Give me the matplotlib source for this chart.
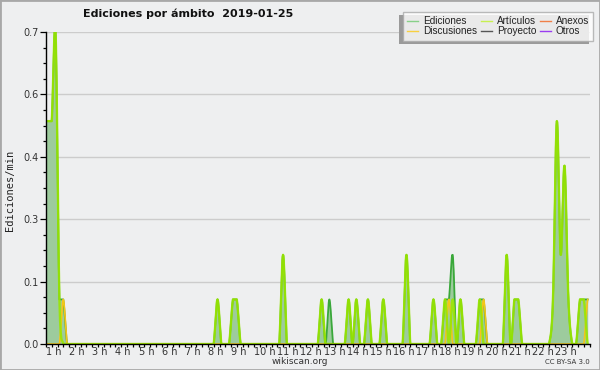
import numpy as np
import matplotlib
matplotlib.use("Agg")
import matplotlib.pyplot as plt
from matplotlib.lines import Line2D
from matplotlib.patches import Rectangle

# ---- data (10-minute bins, edits per minute) ----
n_bins = 142
total_bins = [0, 1, 2, 3, 4, 5, 45, 49, 50, 62, 72, 74, 79, 81, 84, 88, 94, 101,
              104, 105, 106, 108, 113, 114, 120, 122, 123, 132, 133, 134, 135, 136,
              139, 140, 141]
total_vals = [0.5, 0.5, 0.5, 0.7, 0.1, 0.1, 0.1, 0.1, 0.1, 0.2, 0.1, 0.1, 0.1, 0.1,
              0.1, 0.1, 0.2, 0.1, 0.1, 0.1, 0.2, 0.1, 0.1, 0.1, 0.2, 0.1, 0.1, 0.1,
              0.5, 0.2, 0.4, 0.1, 0.1, 0.1, 0.1]
art_bins = [0, 1, 2, 3, 4, 45, 49, 50, 62, 72, 79, 81, 84, 88, 94, 101, 104, 106,
            108, 113, 120, 122, 123, 132, 133, 134, 135, 136, 139, 140]
art_vals = [0.5, 0.5, 0.5, 0.7, 0.1, 0.1, 0.1, 0.1, 0.2, 0.1, 0.1, 0.1, 0.1, 0.1,
            0.2, 0.1, 0.1, 0.1, 0.1, 0.1, 0.2, 0.1, 0.1, 0.1, 0.5, 0.2, 0.4, 0.1,
            0.1, 0.1]
disc_bins = [5, 105, 114, 141]
disc_vals = [0.1, 0.1, 0.1, 0.1]

hour_labels = [f"{h} h" for h in range(1, 24)]
y_ticks = [0.0, 0.14, 0.28, 0.42, 0.56, 0.7]

legend_names = ["Ediciones", "Discusiones", "Artículos", "Proyecto", "Anexos", "Otros"]
legend_colors = ["#88d088", "#f8d040", "#c8f050", "#555555", "#f08048", "#9a3cf0"]


def dense(bins, vals):
    arr = np.zeros(n_bins)
    arr[np.array(bins)] = vals
    return arr


def catmull(y, sub=12):
    """Catmull-Rom curve through the bin values, kept within each segment's range."""
    p = np.concatenate([[y[0]], y, [y[-1]]])
    xs, ys = [], []
    t = np.linspace(0, 1, sub, endpoint=False)
    for i in range(len(y) - 1):
        p0, p1, p2, p3 = p[i], p[i + 1], p[i + 2], p[i + 3]
        v = 0.5 * (2 * p1 + (-p0 + p2) * t + (2 * p0 - 5 * p1 + 4 * p2 - p3) * t ** 2
                   + (-p0 + 3 * p1 - 3 * p2 + p3) * t ** 3)
        v = np.clip(v, min(p1, p2), max(p1, p2))
        xs.append(i + t)
        ys.append(v)
    xs.append([len(y) - 1])
    ys.append([y[-1]])
    return np.concatenate(xs), np.concatenate(ys)


total = dense(total_bins, total_vals)
art = dense(art_bins, art_vals)
disc = dense(disc_bins, disc_vals)

BG = "#eeeff0"
fig = plt.figure(figsize=(6.0, 3.7), dpi=100, facecolor=BG)
ax = fig.add_axes([46 / 600, 1 - 344 / 370, 544 / 600, 312 / 370], facecolor=BG)

xt, yt = catmull(total)
xa, ya = catmull(art)
xd, yd = catmull(disc)
ax.fill_between(xt, 0, yt, color="#9dcb9d", lw=0, zorder=2)
ax.plot(xt, yt, color="#3aa83a", lw=1.3, zorder=3)
ax.plot(xd, yd, color="#f5c518", lw=1.2, zorder=4)
ax.plot(xa, ya, color="#9be600", lw=1.7, zorder=5, alpha=0.9)

ax.set_xlim(0.52, 141.6)
ax.set_ylim(0, 0.7)

ax.set_yticks(y_ticks)
ax.set_yticklabels([f"{v:.1f}" for v in y_ticks])
ax.set_yticks(np.arange(0, 0.7001, 0.035), minor=True)
hour_pos = [0.52 + 6 * i for i in range(len(hour_labels))]
ax.set_xticks(hour_pos)
ax.set_xticklabels(hour_labels, ha="left")
ax.set_xticks(np.arange(0.52, 141.6, 1.5), minor=True)

ax.grid(axis="y", which="major", color="#cccccc", lw=1, zorder=1)
for s in ["top", "right"]:
    ax.spines[s].set_visible(False)
for s in ["left", "bottom"]:
    ax.spines[s].set_color("black")
    ax.spines[s].set_linewidth(1.0)
    ax.spines[s].set_zorder(6)

ax.tick_params(axis="y", which="major", length=4.5, width=0.9, labelsize=7,
               labelcolor="#333333", pad=1)
ax.tick_params(axis="y", which="minor", length=2.5, width=0.9)
ax.tick_params(axis="x", which="major", length=2.5, width=0.9, labelsize=7,
               labelcolor="#333333", pad=-0.5)
ax.tick_params(axis="x", which="minor", length=2.5, width=0.9)

fig.text(10 / 600, 1 - 190 / 370, "Ediciones/min", rotation=90, ha="center",
         va="center", fontsize=7.5, family="DejaVu Sans Mono", color="#222222")
fig.text(188 / 600, 1 - 14 / 370, "Ediciones por ámbito  2019-01-25", ha="center",
         va="center", fontsize=8, fontweight="bold", color="#111111")
fig.text(300 / 600, 1 - 362 / 370, "wikiscan.org", ha="center", va="center",
         fontsize=6.5, color="#333333")
fig.text(590 / 600, 1 - 362 / 370, "CC BY-SA 3.0", ha="right", va="center",
         fontsize=5, color="#333333")

handles = [Line2D([], [], color=c, lw=1) for c in legend_colors]
leg = fig.legend(handles, legend_names, ncol=3, loc="upper right",
                 bbox_to_anchor=(593 / 600, 1 - 12 / 370),
                 prop={"family": "Liberation Sans", "size": 7.2},
                 frameon=True, fancybox=False, handlelength=1.1, handletextpad=0.5,
                 columnspacing=0.35, labelspacing=0.05, borderpad=0.4,
                 borderaxespad=0)
leg.get_frame().set_edgecolor("#aaaaaa")
leg.get_frame().set_linewidth(1)
leg.get_frame().set_facecolor("white")
for t in leg.get_texts():
    t.set_color("#222222")

# shadow of the legend, offset to the lower-left
fig.canvas.draw()
bb = leg.get_window_extent()
fig.patches.append(Rectangle((bb.x0 - 4, bb.y0 - 3), bb.width, bb.height,
                             transform=None, facecolor="#9a9a9a",
                             edgecolor="none", zorder=1))

# outer border
fig.patches.append(Rectangle((0, 0), 1, 1, transform=fig.transFigure, fill=False,
                             edgecolor="#a8a8a8", lw=2, zorder=10))

fig.savefig("out.png", dpi=100, facecolor=BG)
